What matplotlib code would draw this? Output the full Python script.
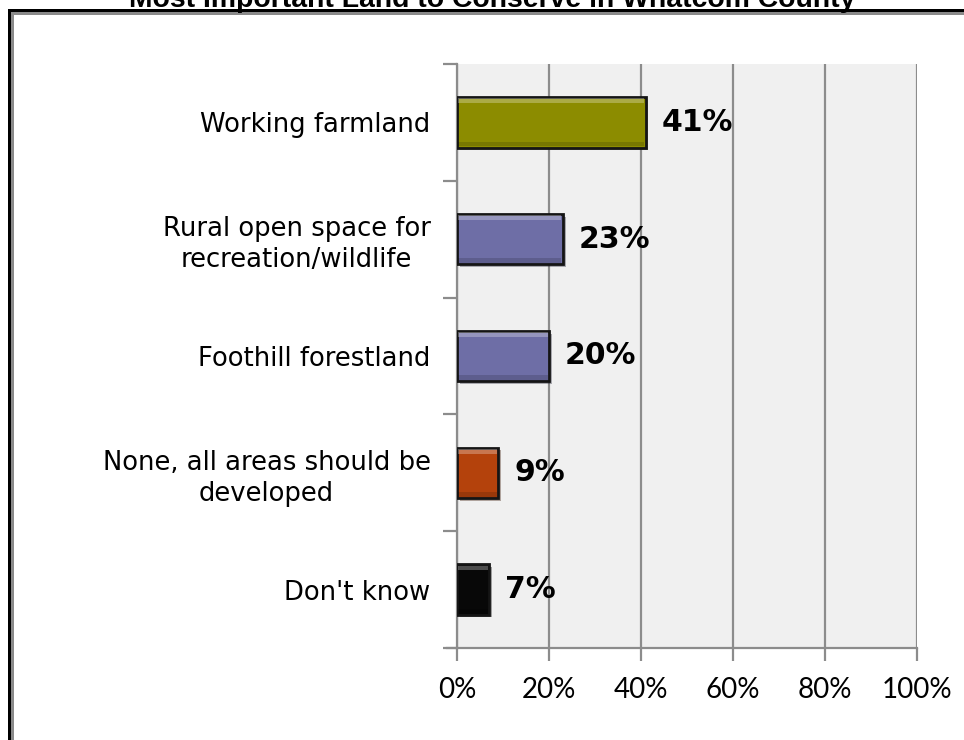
import matplotlib
matplotlib.use("Agg")
import matplotlib.pyplot as plt
from matplotlib.patches import Rectangle
import matplotlib.patheffects as pe

categories = ["Working farmland", "Rural open space for\nrecreation/wildlife",
              "Foothill forestland", "None, all areas should be\ndeveloped", "Don't know"]
values = [41, 23, 20, 9, 7]
bar_colors = ["#8c8c00", "#6e6ea6", "#6e6ea6", "#b4420c", "#080808"]
xticks = [0, 20, 40, 60, 80, 100]
xticklabels = ["0%", "20%", "40%", "60%", "80%", "100%"]
title = "Most Important Land to Conserve in Whatcom County"

W, H = 964, 740
fig = plt.figure(figsize=(W / 100, H / 100), dpi=100)
fig.patch.set_facecolor("white")

# axes position in pixels
left, right, top, bottom = 457, 917, 64, 648
ax = fig.add_axes([left / W, 1 - bottom / H, (right - left) / W, (bottom - top) / H])
ax.set_facecolor("#f0f0f0")

n = len(categories)
ypos = list(range(n))
ax.set_ylim(n - 0.5, -0.5)
ax.set_xlim(0, 100)

bh = 0.43
bars = ax.barh(ypos, values, height=bh, color=bar_colors, edgecolor="#151515",
               linewidth=2.0, zorder=3)
for b in bars:
    b.set_path_effects([pe.SimplePatchShadow(offset=(2, -2), alpha=0.35), pe.Normal()])
# bevel highlights (top lighter, bottom darker)
ax.barh([y - bh / 2 + 0.03 for y in ypos], [v - 0.6 for v in values], height=0.04,
        left=0.3, color="white", alpha=0.28, zorder=3.5)
ax.barh([y + bh / 2 - 0.03 for y in ypos], [v - 0.6 for v in values], height=0.04,
        left=0.3, color="black", alpha=0.15, zorder=3.5)

for y, v in zip(ypos, values):
    ax.text(v + 3.4, y, f"{v}%", va="center", ha="left", fontsize=21.5,
            fontweight="bold", color="black", family="DejaVu Sans", zorder=4)

# grid
ax.set_xticks(xticks)
ax.set_xticklabels(xticklabels, family="Lato")
ax.xaxis.grid(True, color="#8c8c8c", linewidth=1.6, zorder=1)
ax.set_axisbelow(True)

# y ticks at band boundaries, labels at centers
ax.set_yticks([i - 0.5 for i in range(n + 1)])
ax.set_yticklabels([])
ax.set_yticks(ypos, minor=True)
ax.set_yticklabels(categories, minor=True, fontsize=18.6, family="DejaVu Sans",
                   linespacing=1.25)
ax.tick_params(axis="y", which="minor", length=0, pad=19)
ax.tick_params(axis="y", which="major", length=10, width=1.6, color="#8c8c8c")
ax.tick_params(axis="x", length=9, width=1.6, color="#8c8c8c", pad=12, labelsize=20)
for lbl in ax.get_yticklabels(minor=True):
    lbl.set_multialignment("center")

for s in ["top", "right"]:
    ax.spines[s].set_visible(False)
for s in ["left", "bottom"]:
    ax.spines[s].set_color("#8c8c8c")
    ax.spines[s].set_linewidth(1.6)
ax.plot([-2.2, 0], [n - 0.5, n - 0.5], color="#8c8c8c", linewidth=1.6,
        clip_on=False, zorder=2)

# frame lines
def px_rect(x0, y0, x1, y1, color):
    fig.add_artist(Rectangle((x0 / W, 1 - y1 / H), (x1 - x0) / W, (y1 - y0) / H,
                             transform=fig.transFigure, facecolor=color,
                             edgecolor="none", zorder=0))

px_rect(8, 9, 11, H + 5, "black")
px_rect(8, 9, W + 5, 12, "black")
px_rect(11, 12, 14, H + 5, "#8a8a8a")
px_rect(11, 12, W + 5, 15, "#8a8a8a")

fig.text(492 / W, 1 - 7 / H, title, ha="center", va="baseline", fontsize=20.4,
         fontweight="bold", family="Liberation Sans")

fig.savefig("out.png", dpi=100, facecolor="white")
